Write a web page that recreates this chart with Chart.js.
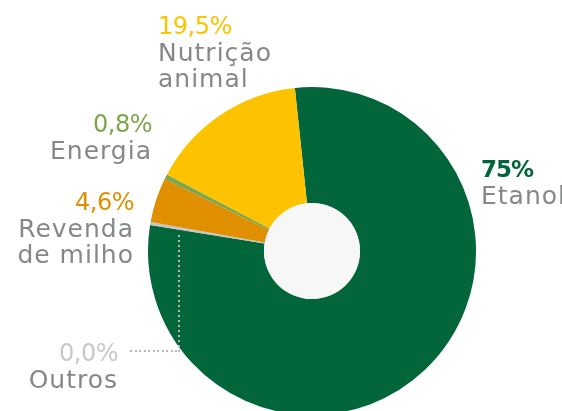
<!DOCTYPE html>
<html>
<head>
<meta charset="utf-8">
<script src="https://cdn.jsdelivr.net/npm/chart.js@4"></script>
<style>
  html, body { margin: 0; padding: 0; background: #ffffff; overflow: hidden; }
  #wrap { width: 562px; height: 420px; }
</style>
</head>
<body>
<div id="wrap"><canvas id="cornChart"></canvas></div>
<script>
// Slices in drawing order (clockwise, starting just left of 12 o'clock)
const categories = ["Etanol", "Outros", "Revenda de milho", "Energia", "Nutrição animal"];
// share of the ring as drawn
const values = [79.2, 0.3, 4.4, 0.5, 15.6];
// percentages printed next to each slice
const pctLabels = ["75%", "0,0%", "4,6%", "0,8%", "19,5%"];
const nameLines = [["Etanol"], ["Outros"], ["Revenda", "de milho"], ["Energia"], ["Nutrição", "animal"]];

const sliceColors = ["#03663a", "#c6c6c6", "#e08f00", "#7fa64a", "#fdc300"];
const pctColors = ["#03663a", "#c8c8c8", "#e08f00", "#7fa64a", "#fdc300"];
const nameColor = "#858985";

// label anchors, relative to the ring centre
const labelLayout = [
  { dx: 169, dy: -74, align: "left", bold: true },
  { dx: -194, dy: 110, align: "right" },
  { dx: -178, dy: -41, align: "right" },
  { dx: -160, dy: -119, align: "right" },
  { dx: -154, dy: -217, align: "left" }
];

const ringExtras = {
  id: "ringExtras",
  afterDatasetsDraw(chart) {
    const arc = chart.getDatasetMeta(0).data[0];
    if (!arc) return;
    const { x, y, innerRadius } = arc.getProps(["x", "y", "innerRadius"], true);
    const ctx = chart.ctx;
    ctx.save();
    // centre disc
    ctx.fillStyle = "#f7f7f7";
    ctx.beginPath();
    ctx.arc(x, y, innerRadius, 0, Math.PI * 2);
    ctx.fill();

    // dotted leader for "Outros"
    ctx.fillStyle = "#b9b9b9";
    for (let px = x - 182; px <= x - 133; px += 4.5) {
      ctx.fillRect(Math.round(px), y + 99, 2, 2);
    }
    for (let py = y + 99; py >= y - 16; py -= 5) {
      ctx.fillRect(x - 134, Math.round(py), 2, 2);
    }

    ctx.textBaseline = "alphabetic";
    labelLayout.forEach((l, i) => {
      const lx = x + l.dx, ly = y + l.dy;
      ctx.textAlign = l.align;
      ctx.fillStyle = pctColors[i];
      if (l.bold) {
        ctx.font = "700 23px 'DejaVu Sans'";
        ctx.letterSpacing = "-1px";
      } else {
        ctx.font = "400 24px 'DejaVu Sans'";
        ctx.letterSpacing = "-0.5px";
      }
      ctx.fillText(pctLabels[i], lx, ly);
      ctx.fillStyle = nameColor;
      ctx.font = "400 25px 'DejaVu Sans'";
      ctx.letterSpacing = "1px";
      nameLines[i].forEach((t, k) => ctx.fillText(t, lx, ly + 27 + k * 26));
    });
    ctx.restore();
  }
};

new Chart(document.getElementById("cornChart"), {
  type: "doughnut",
  data: {
    labels: categories,
    datasets: [{
      data: values,
      backgroundColor: sliceColors,
      borderWidth: 0,
      hoverOffset: 0
    }]
  },
  options: {
    responsive: true,
    maintainAspectRatio: false,
    animation: false,
    rotation: -6,
    cutout: 48,
    layout: { padding: { top: 87, bottom: 5, left: 148, right: 86 } },
    plugins: {
      legend: { display: false },
      tooltip: { enabled: false }
    }
  },
  plugins: [ringExtras]
});
</script>
</body>
</html>
